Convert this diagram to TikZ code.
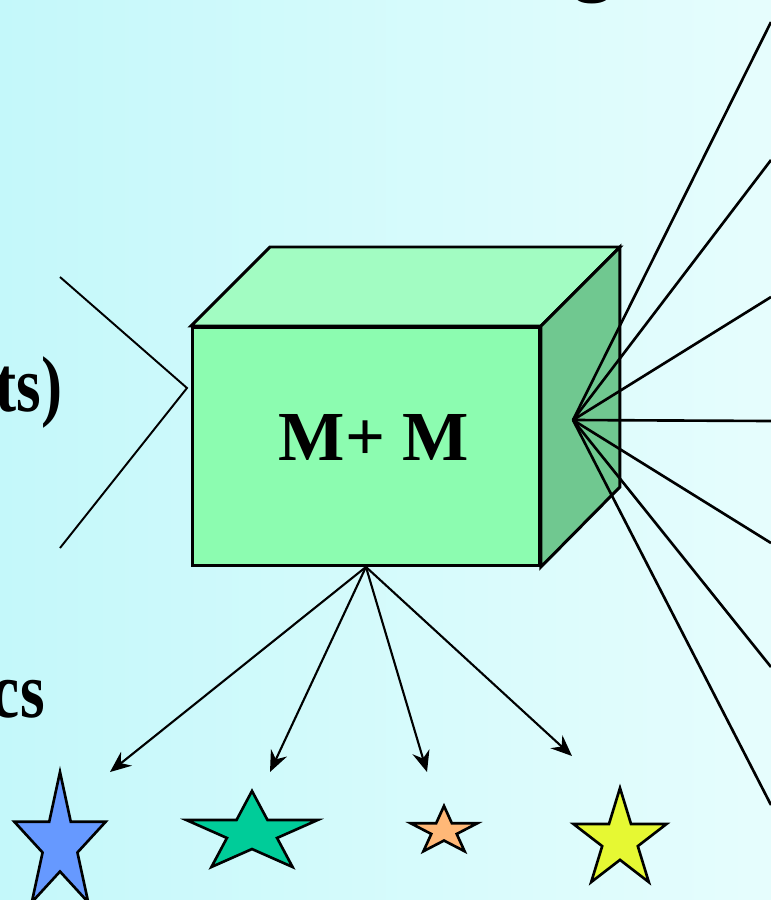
\documentclass[tikz,border=0pt]{standalone}
\usepackage{fontspec}
\setmainfont{Liberation Serif}
\newfontfamily\edgefont[FakeStretch=0.8]{Liberation Serif}
\usepackage{tikz}
\usetikzlibrary{arrows.meta, positioning, calc}
\definecolor{bgleft}{RGB}{196, 248, 250}
\definecolor{bgright}{RGB}{230, 253, 253}
\definecolor{facefront}{RGB}{140, 252, 176}
\definecolor{facetop}{RGB}{162, 252, 194}
\definecolor{faceside}{RGB}{112, 200, 144}
\definecolor{starblue}{RGB}{102, 153, 255}
\definecolor{stargreen}{RGB}{0, 204, 153}
\definecolor{starorange}{RGB}{255, 184, 119}
\definecolor{staryellow}{RGB}{230, 248, 51}

\begin{document}
\begin{tikzpicture}[x=0.02cm, y=-0.02cm,
    face/.style={draw=black, line width=1.7pt},
    feed/.style={black, line width=1.1pt},
    ray/.style={black, line width=1.5pt},
    decay/.style={black, line width=1.2pt,
        -{Stealth[length=12pt, width=10pt, inset=4pt]}},
    starline/.style={draw=black, line width=1.5pt},
    edgetext/.style={inner sep=0pt, font=\edgefont\bfseries\fontsize{45}{54}\selectfont},
    bigtext/.style={inner sep=0pt, font=\bfseries\fontsize{40}{48}\selectfont}]
    % Page and background shading
    \useasboundingbox (0,0) rectangle (771,900);
    \clip (0,0) rectangle (771,900);
    \shade[left color=bgleft, right color=bgright] (0,0) rectangle (771,900);
    % Cut-off text at the edges
    \node[inner sep=0pt, font=\bfseries\fontsize{45}{54}\selectfont, anchor=base]
        (gtail) at (593,-14) {g};
    \node[edgetext, anchor=base east] (tsend) at (63,411) {ts)};
    \node[edgetext, anchor=base east] (csend) at (45,717) {cs};
    % Box: front, top and side faces
    \node[face, fill=facefront, anchor=north west, inner sep=0pt,
          minimum width=6.94cm, minimum height=4.76cm] (box) at (191,326) {};
    \filldraw[face, fill=facetop] (box.north west) -- ++(79,-79)
        -- ($(box.north east)+(79,-79)$) -- (box.north east) -- cycle;
    \filldraw[face, fill=faceside] (box.north east) -- ++(79,-79)
        -- ++(0,240) -- (box.south east) -- cycle;
    \node[bigtext] (mm) at ($(box.center)+(8,-9)$) {M+ M};
    % Incoming lines
    \coordinate (inlet) at (187,388);
    \coordinate (in1) at (60,277);
    \coordinate (in2) at (60,548);
    \draw[feed] (in1) -- (inlet) -- (in2);
    % Outgoing rays on the right
    \coordinate (hub) at (573,420);
    \foreach \y [count=\i] in {22,160,297,421,543,667,805} {
        \coordinate (out\i) at (771,\y);
        \draw[ray] (hub) -- (out\i);
    }
    % Arrows down to the stars
    \foreach \x/\y [count=\i] in {110/772, 270/772, 427/772, 572/756} {
        \coordinate (tip\i) at (\x,\y);
        \draw[decay] (box.south) -- (tip\i);
    }
    % Stars
    \foreach \cx/\cy/\rx/\ry/\col in {60/844/48/72/starblue,
                                      252/833/69/42/stargreen,
                                      444/831/35/25/starorange,
                                      620/840/49/52/staryellow} {
        \filldraw[starline, fill=\col, shift={(\cx,\cy)}, xscale=\rx, yscale=\ry]
            (-90:1) -- (-54:0.382) -- (-18:1) -- (18:0.382) -- (54:1)
            -- (90:0.382) -- (126:1) -- (162:0.382) -- (198:1) -- (234:0.382) -- cycle;
    }
\end{tikzpicture}
\end{document}
